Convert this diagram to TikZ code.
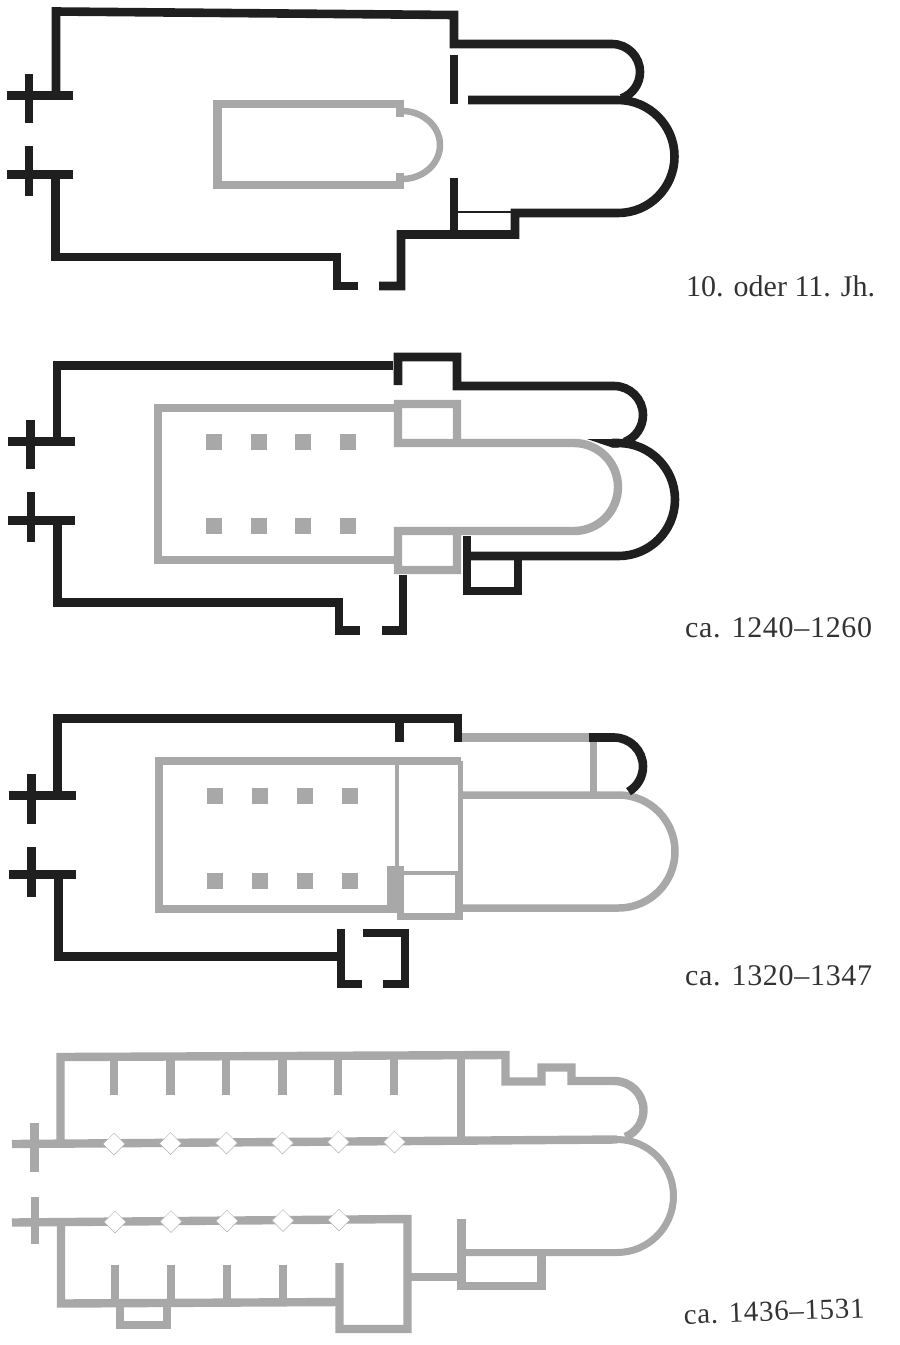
\documentclass[tikz,border=0pt]{standalone}
\usepackage{fontspec}
\setmainfont{Liberation Serif}
\newfontfamily\datefont[LetterSpace=2.3]{Liberation Serif}
\usetikzlibrary{shapes.geometric}
\begin{document}
\begin{tikzpicture}[x=1pt,y=-1pt]
\tikzset{dark/.style = {draw=black!88,line width=8.6pt}}
\tikzset{pale/.style = {draw=black!34,line width=8.4pt}}
\tikzset{pillar/.style = {shape=rectangle,fill=black!34,minimum size=16pt,inner sep=0pt}}
\tikzset{bay/.style = {shape=diamond,draw=black!30,line width=0.5pt,fill=white,minimum size=22pt,inner sep=0pt}}
\tikzset{datelabel/.style = {anchor=base west,inner sep=0pt,text=black!80,font=\fontsize{30}{30}\selectfont}}
\useasboundingbox (0,0) rectangle (900,1345);
% 10. oder 11. Jh.
\draw[pale] (404,104) -- (217.5,104) -- (217.5,185) -- (404,185);
\draw[pale] (400,104) -- (400,117);
\draw[pale] (400,173) -- (400,185);
\draw[pale,line width=6.5pt] (402,111) arc [start angle=-90,end angle=90,x radius=38,y radius=34];
\draw[dark] (56,95) -- (56,11.5) -- (454,15) -- (454,44) -- (612,44) arc [start angle=-90,end angle=70,radius=28];
\draw[dark] (454,55) -- (454,104);
\draw[dark] (468,100) -- (618,100) arc [start angle=-90,end angle=90,radius=56.5] -- (515,213) -- (515,234.5) -- (401,234.5) -- (401,286) -- (379,286);
\draw[dark] (454,178) -- (454,234);
\draw[dark,line width=2.5pt] (458,212) -- (512,212);
\draw[dark] (7,95.5) -- (73,95.5);
\draw[dark] (29,74) -- (29,123);
\draw[dark] (7,174.5) -- (73,174.5);
\draw[dark] (29,146) -- (29,196);
\draw[dark] (55.5,174) -- (55.5,257) -- (337,257) -- (337,286) -- (358,286);
\node[datelabel] (lblA) at (686,296) {10. oder 11. Jh.};
% ca. 1240-1260
\draw[pale] (398,408) -- (158,408) -- (158,560) -- (398,560);
\draw[pale] (457,443) -- (398,443) -- (398,404) -- (457,404) -- (457,443) -- (574,443) arc [start angle=-90,end angle=90,radius=44] -- (398,531) -- (398,570) -- (457,570) -- (457,531);
\foreach \x in {214,259,303,348}
  \foreach \y in {442,526}
    \node[pillar] (q\x\y) at (\x,\y) {};
\draw[dark] (57,441.5) -- (57,365.5) -- (393,365.5);
\draw[dark] (398,385) -- (398,357) -- (457,357) -- (457,386) -- (614,386) arc [start angle=-90,end angle=68,radius=29];
\fill[black!88] (587,439) -- (618.5,439) -- (618.5,447.5) -- (612,447.5) -- cycle;
\draw[dark] (612,443) -- (618.5,443) arc [start angle=-90,end angle=90,radius=56.5] -- (467,556);
\draw[dark] (467,536) -- (467,591) -- (518,591) -- (518,556);
\draw[dark] (8,441.5) -- (75,441.5);
\draw[dark] (30.5,420) -- (30.5,469);
\draw[dark] (8,520.5) -- (75,520.5);
\draw[dark] (31,492) -- (31,542);
\draw[dark] (57.5,520) -- (57.5,602.5) -- (339,602.5) -- (339,630.5) -- (360,630.5);
\draw[dark] (403,575) -- (403,630.5) -- (382,630.5);
\node[datelabel] (lblB) at (685,637) {\datefont ca. 1240–1260};
% ca. 1320-1347
\draw[pale] (397,761) -- (159,761) -- (159,909) -- (397,909);
\draw[pale] (397,761) -- (461,761);
\draw[pale,line width=4.5pt] (397,761) -- (397,870);
\draw[pale,line width=4pt] (397,873) -- (460,873);
\draw[pale,line width=5pt] (460.5,761) -- (460.5,873);
\fill[black!34] (387,866) rectangle (404,913);
\draw[pale,line width=7.5pt] (397,916.5) -- (459,916.5) -- (459,873);
\draw[pale,line width=7.5pt] (458,795) -- (618.5,795) arc [start angle=-90,end angle=90,radius=56.5] -- (458,908);
\draw[pale] (458,737.5) -- (590,737.5);
\draw[pale,line width=7pt] (593,737) -- (593,795);
\foreach \x in {215,260,305,350}
  \foreach \y in {796,881}
    \node[pillar] (r\x\y) at (\x,\y) {};
\draw[dark] (57.5,795) -- (57.5,718.5) -- (458,718.5) -- (458,742);
\draw[dark] (399.5,718) -- (399.5,742);
\draw[dark] (589,737.5) -- (614,737.5) arc [start angle=-90,end angle=60,radius=29];
\draw[dark] (8.5,795.5) -- (76,795.5);
\draw[dark] (31.5,774) -- (31.5,824);
\draw[dark] (8.5,874.5) -- (76,874.5);
\draw[dark] (31.5,847) -- (31.5,897);
\draw[dark] (58.5,874) -- (58.5,956.5) -- (341,956.5);
\draw[dark] (341,929) -- (341,984) -- (362,984);
\draw[dark] (363,933) -- (405,933) -- (405,984) -- (383,984);
\node[datelabel] (lblC) at (685,985) {\datefont ca. 1320–1347};
% ca. 1436-1531
\draw[pale] (60.5,1144) -- (60.5,1057) -- (505.5,1055) -- (505.5,1081.5) -- (541.5,1081.5) -- (541.5,1067.5) -- (571.5,1067.5) -- (571.5,1081) -- (614.5,1081) arc [start angle=-90,end angle=68,radius=29];
\draw[pale] (12,1144) -- (617,1139.5);
\draw[pale] (34.5,1123) -- (34.5,1172);
\draw[pale] (461,1055) -- (461,1140);
\foreach \x in {114,170.5,226,282.5,338,394}
  \draw[pale] (\x,1057) -- (\x,1095);
\draw[pale,line width=7pt] (617,1139.5) arc [start angle=-90,end angle=90,radius=56.5] -- (461.5,1252.5);
\draw[pale] (461.5,1219) -- (461.5,1286) -- (541.5,1286) -- (541.5,1253);
\draw[pale] (407.5,1277) -- (461.5,1277);
\draw[pale] (12,1222.5) -- (407.5,1219) -- (407.5,1329) -- (339.5,1329) -- (339.5,1263);
\draw[pale] (35,1197) -- (35,1244);
\draw[pale] (61,1222) -- (61,1303.5) -- (339.5,1302);
\foreach \x in {115,171,227,283}
  \draw[pale] (\x,1265) -- (\x,1303);
\draw[pale] (120,1303) -- (120,1325) -- (167,1325) -- (167,1303);
\foreach \x/\y in {114/1144,170.5/1143.5,226.5/1143,282.5/1143,338.5/1142,394.5/1142}
  \node[bay] (u\x) at (\x,\y) {};
\foreach \x/\y in {115/1222,171/1221.5,227/1221,283/1220.5,339/1220}
  \node[bay] (v\x) at (\x,\y) {};
\node[datelabel,rotate=2] (lblD) at (684,1324) {\datefont\fontsize{29}{30}\selectfont ca. 1436–1531};
\end{tikzpicture}
\end{document}
